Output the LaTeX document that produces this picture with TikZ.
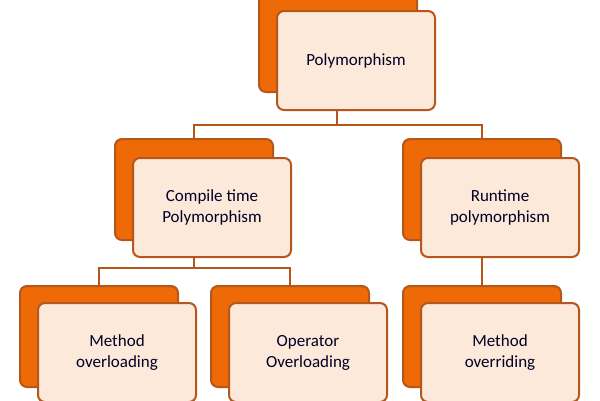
\documentclass[tikz,border=0pt]{standalone}
\usepackage{fontspec}
\setmainfont{Carlito}
\definecolor{backc}{HTML}{EE6A06}
\definecolor{edge}{HTML}{B5571A}
\definecolor{frontc}{HTML}{FDE9D9}
\begin{document}
\begin{tikzpicture}[x=1pt,y=-1pt,
  back/.style={draw=edge,fill=backc,line width=2pt,rounded corners=7pt,minimum width=158pt,minimum height=101pt,anchor=north west,inner sep=0pt},
  front/.style={draw=edge,fill=frontc,line width=2pt,rounded corners=7pt,minimum width=158pt,minimum height=99pt,anchor=north west,inner sep=0pt,align=center,font=\fontsize{17}{21}\selectfont,text=black!85!blue},
  conn/.style={draw=edge,line width=2pt}]
\useasboundingbox (0,0) rectangle (600,400);
\begin{scope}
\clip (0,0) rectangle (600,400);
% connectors first
\coordinate (j1) at (337,125);
\coordinate (j2) at (194,268);
\node[back] (b0) at (258,-10) {};
\node[front] (f0) at (276,10) {Polymorphism};
\node[back] (b1) at (114,138) {};
\node[front] (f1) at (132,157) {Compile time\\Polymorphism};
\node[back] (b2) at (402,138) {};
\node[front] (f2) at (420,157) {Runtime\\polymorphism};
\node[back] (b3) at (19,285) {};
\node[front] (f3) at (37,302) {Method\\overloading};
\node[back] (b4) at (210,285) {};
\node[front] (f4) at (228,302) {Operator\\Overloading};
\node[back] (b5) at (402,285) {};
\node[front] (f5) at (420,302) {Method\\overriding};
\draw[conn] (f0.south -| j1) -- (j1) -| (b1.north);
\draw[conn] (j1) -| (b2.north);
\draw[conn] (f1.south -| j2) -- (j2) -| (b3.north);
\draw[conn] (j2) -| (b4.north);
\draw[conn] (f2.south -| b2.north) -- (b5.north);
\end{scope}
\end{tikzpicture}
\end{document}
